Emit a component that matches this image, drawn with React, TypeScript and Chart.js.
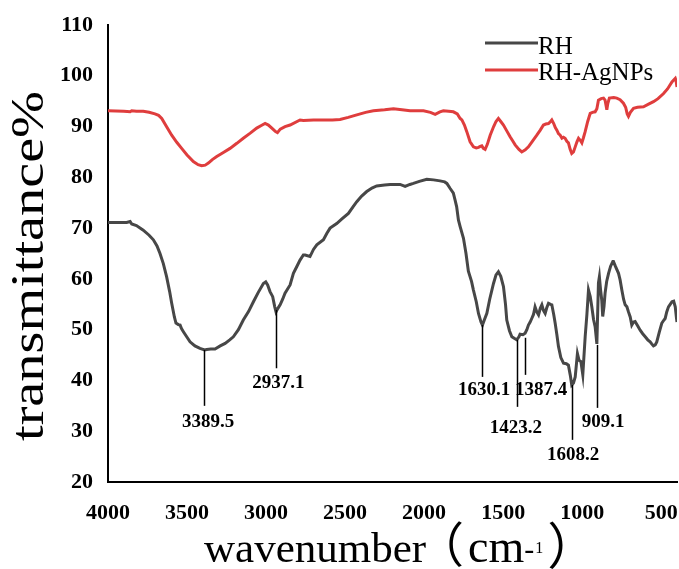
import { useEffect, useRef } from "react";
import { Chart, registerables } from "chart.js";

Chart.register(...registerables);

// ---- Data ----
const seriesNames = ["RH", "RH-AgNPs"];

const rhWavenumber = [
  4000, 3940, 3882, 3860, 3850, 3820, 3777, 3740, 3713, 3690, 3671, 3650, 3629, 3610, 3597, 3580, 3570, 3555, 3544, 3535,
  3523, 3500, 3481, 3450, 3418, 3389, 3375, 3350, 3323, 3290, 3259, 3230, 3207, 3175, 3144, 3110, 3080, 3050, 3017, 3002,
  2990, 2975, 2958, 2945, 2937, 2925, 2911, 2895, 2880, 2848, 2827, 2806, 2785, 2764, 2753, 2722, 2700, 2679, 2637, 2615,
  2595, 2553, 2520, 2479, 2450, 2426, 2395, 2363, 2330, 2300, 2250, 2215, 2152, 2120, 2090, 2068, 2030, 1983, 1940, 1899,
  1870, 1856, 1835, 1815, 1804, 1794, 1783, 1772, 1751, 1735, 1720, 1700, 1688, 1670, 1656, 1640, 1631, 1618, 1603, 1585,
  1561, 1545, 1530, 1515, 1498, 1485, 1477, 1460, 1445, 1425, 1414, 1400, 1393, 1375, 1361, 1350, 1340, 1329, 1319, 1308,
  1298, 1287, 1276, 1265, 1255, 1245, 1234, 1224, 1213, 1200, 1192, 1180, 1171, 1160, 1150, 1135, 1118, 1100, 1087, 1075,
  1066, 1055, 1044, 1030, 1020, 1008, 996, 981, 970, 960, 949, 939, 928, 918, 907, 897, 891, 884, 876, 870,
  862, 855, 845, 833, 820, 806, 802, 790, 770, 760, 749, 738, 728, 717, 707, 696, 686, 675, 665, 650,
  633, 617, 601, 585, 570, 560, 549, 538, 528, 512, 496, 485, 475, 465, 454, 443, 432, 421, 411, 404,
  400,
];
const rhTransmittance = [
  71.1, 71.1, 71.1, 71.3, 70.8, 70.5, 69.6, 68.6, 67.7, 66.5, 65.0, 63.0, 60.4, 57.5, 55.2, 52.5, 51.3, 51.0, 50.9, 50.2,
  49.6, 48.5, 47.6, 46.8, 46.3, 46.0, 46.1, 46.2, 46.2, 46.8, 47.3, 48.0, 48.6, 50.0, 51.9, 53.6, 55.5, 57.3, 59.1, 59.4,
  58.8, 57.5, 56.5, 54.5, 53.5, 54.2, 54.9, 56.0, 57.2, 58.8, 61.1, 62.4, 63.7, 64.7, 64.7, 64.4, 65.8, 66.7, 67.7, 69.0,
  70.0, 70.9, 71.8, 72.9, 74.2, 75.2, 76.3, 77.2, 77.9, 78.3, 78.5, 78.6, 78.6, 78.2, 78.6, 78.8, 79.2, 79.6, 79.5, 79.3,
  79.1, 78.8, 77.8, 76.9, 75.5, 74.2, 71.6, 70.3, 68.0, 65.0, 61.5, 59.5, 57.8, 55.5, 53.2, 51.5, 50.9, 52.0, 53.2, 56.0,
  59.1, 60.8, 61.4, 60.5, 58.5, 55.0, 51.9, 49.8, 48.6, 48.2, 48.0, 48.6, 49.1, 49.0, 49.3, 50.0, 50.9, 51.5, 52.2, 53.0,
  54.5, 53.5, 52.9, 54.2, 54.9, 53.8, 53.2, 54.3, 55.2, 55.0, 54.9, 53.0, 51.3, 49.0, 46.7, 44.5, 43.4, 43.3, 43.0, 41.0,
  39.1, 39.5, 40.7, 45.3, 44.0, 43.7, 41.1, 48.6, 53.0, 57.8, 56.5, 54.5, 52.0, 50.6, 47.2, 59.2, 60.4, 58.0, 55.8, 52.6,
  54.5, 57.2, 59.5, 61.1, 62.5, 63.4, 63.4, 62.5, 61.1, 59.8, 57.8, 56.0, 54.9, 54.5, 53.5, 52.5, 50.9, 51.5, 51.6, 50.8,
  49.9, 49.2, 48.6, 48.0, 47.6, 47.2, 46.8, 47.0, 47.6, 49.5, 51.3, 51.8, 52.2, 53.5, 54.5, 55.0, 55.5, 55.6, 54.5, 52.5,
  51.5,
];

const agWavenumber = [
  4000, 3900, 3860, 3850, 3820, 3777, 3740, 3703, 3680, 3660, 3630, 3597, 3565, 3534, 3500, 3460, 3430, 3407, 3385, 3365,
  3340, 3312, 3270, 3228, 3185, 3144, 3100, 3059, 3030, 3006, 2985, 2960, 2940, 2928, 2910, 2880, 2848, 2785, 2764, 2700,
  2637, 2580, 2532, 2480, 2426, 2370, 2321, 2250, 2194, 2140, 2089, 2004, 1960, 1930, 1900, 1878, 1845, 1815, 1790, 1772,
  1761, 1745, 1730, 1709, 1688, 1670, 1656, 1645, 1635, 1625, 1614, 1600, 1582, 1560, 1545, 1530, 1515, 1498, 1478, 1456,
  1440, 1424, 1400, 1382, 1360, 1340, 1313, 1287, 1265, 1245, 1230, 1213, 1200, 1192, 1180, 1170, 1160, 1150, 1139, 1128,
  1118, 1108, 1097, 1087, 1076, 1066, 1055, 1044, 1033, 1023, 1012, 1002, 992, 981, 965, 949, 935, 918, 907, 897,
  880, 865, 855, 848, 844, 838, 828, 800, 781, 760, 739, 725, 715, 707, 695, 675, 650, 612, 580, 549,
  520, 485, 460, 432, 411, 406, 400,
];
const agTransmittance = [
  93.1, 93.0, 92.9, 93.1, 93.0, 93.0, 92.8, 92.5, 92.2, 91.6, 90.0, 88.3, 86.9, 85.7, 84.4, 83.1, 82.5, 82.3, 82.4, 82.8,
  83.5, 84.1, 84.9, 85.7, 86.7, 87.7, 88.7, 89.7, 90.2, 90.6, 90.3, 89.6, 89.0, 88.8, 89.5, 90.0, 90.3, 91.3, 91.2, 91.3,
  91.3, 91.3, 91.4, 91.8, 92.3, 92.8, 93.1, 93.3, 93.5, 93.3, 93.1, 93.1, 92.8, 92.4, 92.9, 93.1, 93.0, 92.9, 92.5, 91.6,
  91.3, 90.3, 89.0, 87.0, 86.0, 85.8, 85.9, 86.1, 86.2, 85.7, 85.5, 86.5, 88.3, 90.0, 91.0, 91.6, 91.0, 90.3, 89.2, 88.0,
  87.2, 86.4, 85.5, 85.0, 85.4, 86.0, 87.2, 88.3, 89.3, 90.3, 90.5, 90.6, 91.0, 91.3, 90.6, 89.8, 89.3, 88.6, 88.3, 87.7,
  87.9, 87.7, 87.1, 86.8, 85.5, 84.7, 85.0, 86.0, 87.0, 87.7, 87.3, 86.8, 87.8, 89.0, 91.0, 92.6, 92.8, 92.9, 93.5, 95.2,
  95.5, 95.6, 95.2, 94.0, 93.3, 94.5, 95.6, 95.7, 95.6, 95.3, 94.6, 93.8, 92.5, 92.0, 92.8, 93.6, 93.8, 93.9, 94.4, 94.9,
  95.5, 96.5, 97.4, 98.8, 99.5, 99.0, 97.8,
];

const xTickValues = [4000, 3500, 3000, 2500, 2000, 1500, 1000, 500];
const yTickValues = [20, 30, 40, 50, 60, 70, 80, 90, 100, 110];

// Peak annotations (wavenumber / transmittance values)
const peakLabels = ["3389.5", "2937.1", "1630.1", "1423.2", "1387.4", "1608.2", "909.1"];
const peakLineWavenumber = [3395, 2935, 1632, 1412, 1361, 1063, 905];
const peakLineTop = [46.0, 53.9, 50.9, 48.0, 48.4, 39.1, 47.0];
const peakLineBottom = [35.0, 42.4, 40.7, 34.8, 41.1, 28.3, 34.6];
const peakLabelWavenumber = [3367, 2922, 1620, 1420, 1260, 1057, 867];
const peakLabelValue = [30.8, 38.5, 37.1, 29.6, 37.1, 24.3, 30.8];

const GRAY = "#474747";
const RED = "#df3d3d";
const SERIF = "'Liberation Serif', 'Times New Roman', serif";
const CJK = "'Noto Sans CJK SC', sans-serif";

const decorPlugin = {
  id: "decor",
  afterDatasetsDraw(chart: any) {
    const { ctx, scales } = chart;
    const x = scales.x;
    const y = scales.y;
    ctx.save();

    // peak annotations
    ctx.strokeStyle = "#000";
    ctx.lineWidth = 1.5;
    ctx.fillStyle = "#000";
    ctx.font = `bold 19px ${SERIF}`;
    ctx.textAlign = "center";
    ctx.textBaseline = "alphabetic";
    peakLabels.forEach((lab, i) => {
      const px = Math.round(x.getPixelForValue(peakLineWavenumber[i])) + 0.5;
      ctx.beginPath();
      ctx.moveTo(px, y.getPixelForValue(peakLineTop[i]));
      ctx.lineTo(px, y.getPixelForValue(peakLineBottom[i]));
      ctx.stroke();
      ctx.fillText(lab, x.getPixelForValue(peakLabelWavenumber[i]), y.getPixelForValue(peakLabelValue[i]));
    });

    // legend
    const colors = [GRAY, RED];
    const rows = [43, 70];
    const baselines = [53.5, 80];
    ctx.font = `25px ${SERIF}`;
    ctx.textAlign = "left";
    seriesNames.forEach((name, i) => {
      ctx.strokeStyle = colors[i];
      ctx.lineWidth = 3;
      ctx.beginPath();
      ctx.moveTo(485, rows[i]);
      ctx.lineTo(538, rows[i]);
      ctx.stroke();
      ctx.fillStyle = "#000";
      ctx.fillText(name, 538, baselines[i]);
    });

    // y title (stretched along its length)
    ctx.save();
    ctx.font = `47px ${SERIF}`;
    const yTitle = "transmittance%";
    const w = ctx.measureText(yTitle).width;
    ctx.translate(43, 266);
    ctx.rotate(-Math.PI / 2);
    ctx.scale(350 / w, 1);
    ctx.textAlign = "center";
    ctx.textBaseline = "alphabetic";
    ctx.fillText(yTitle, 0, 0);
    ctx.restore();

    // x title
    const base = 562;
    let cx = 204;
    ctx.textAlign = "left";
    ctx.fillStyle = "#000";
    const put = (t: string, font: string, dy: number, gap: number) => {
      ctx.font = font;
      ctx.fillText(t, cx, base + dy);
      cx += ctx.measureText(t).width + gap;
    };
    put("wavenumber", `43px ${SERIF}`, 0, -10);
    put("（", `48px ${CJK}`, 0, 4);
    put("cm", `46px ${SERIF}`, 0, 0);
    put("-", `30px ${SERIF}`, -3, 1);
    put("1", `16px ${SERIF}`, -9, 4);
    put("）", `50px ${CJK}`, 2, 0);

    ctx.restore();
  },
};

export default function App() {
  const canvasRef = useRef<HTMLCanvasElement | null>(null);

  useEffect(() => {
    if (!canvasRef.current) return;
    const chart = new Chart(canvasRef.current, {
      type: "line",
      data: {
        datasets: [
          {
            label: seriesNames[0],
            data: rhWavenumber.map((w, i) => ({ x: w, y: rhTransmittance[i] })),
            borderColor: GRAY,
            borderWidth: 3,
            pointRadius: 0,
            tension: 0,
            fill: false,
          },
          {
            label: seriesNames[1],
            data: agWavenumber.map((w, i) => ({ x: w, y: agTransmittance[i] })),
            borderColor: RED,
            borderWidth: 3,
            pointRadius: 0,
            tension: 0,
            fill: false,
          },
        ],
      },
      options: {
        animation: false,
        responsive: false,
        maintainAspectRatio: false,
        layout: { padding: { left: 0, top: 25, right: 2, bottom: 0 } },
        plugins: {
          legend: { display: false },
          tooltip: { enabled: false },
          title: { display: false },
        },
        scales: {
          x: {
            type: "linear",
            reverse: true,
            min: 400,
            max: 4000,
            grid: { display: false, drawTicks: false },
            border: { display: true, color: "#000", width: 2 },
            afterBuildTicks: (s: any) => {
              s.ticks = xTickValues.map((v) => ({ value: v }));
            },
            afterFit: (s: any) => {
              s.height = 87;
              s.paddingLeft = 0;
              s.paddingRight = 0;
            },
            ticks: {
              color: "#000",
              padding: 18,
              maxRotation: 0,
              autoSkip: false,
              callback: (v: any) => String(v),
              font: { family: SERIF, size: 22, weight: "bold" },
            },
          },
          y: {
            type: "linear",
            min: 20,
            max: 110,
            grid: { display: false, drawTicks: false },
            border: { display: true, color: "#000", width: 2 },
            afterBuildTicks: (s: any) => {
              s.ticks = yTickValues.map((v) => ({ value: v }));
            },
            afterFit: (s: any) => {
              s.width = 108;
              s.paddingTop = 0;
              s.paddingBottom = 0;
            },
            ticks: {
              color: "#000",
              padding: 15,
              callback: (v: any) => String(v),
              font: { family: SERIF, size: 22, weight: "bold" },
            },
          },
        },
      },
      plugins: [decorPlugin],
    });
    return () => chart.destroy();
  }, []);

  return (
    <div style={{ position: "absolute", left: 0, top: 0, width: 679, height: 569, background: "#fff" }}>
      <canvas ref={canvasRef} width={679} height={569} style={{ display: "block" }} />
    </div>
  );
}
